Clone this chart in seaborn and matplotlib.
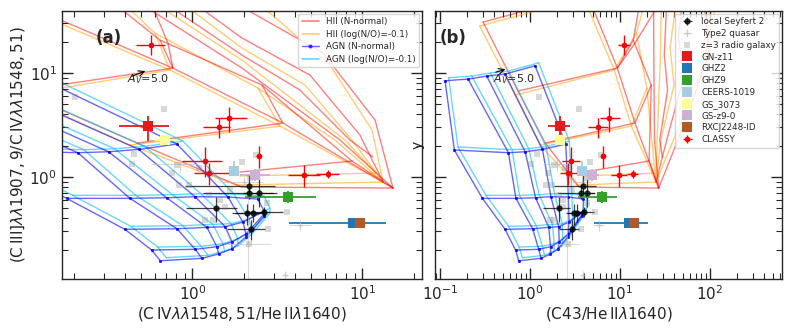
import numpy as np
import pandas as pd
import matplotlib
matplotlib.use("Agg")
import matplotlib.pyplot as plt
from matplotlib.lines import Line2D
import seaborn as sns

sns.set_style("ticks")
plt.rcParams["font.family"] = ["DejaVu Sans"]
plt.rcParams["mathtext.fontset"] = "dejavusans"

nan = np.nan
# ================= model grids: log10 line ratios =================
# lxa = log C IV/He II ; lxb = log C43/He II ; ly = log C III]/C IV
# AGN, N-normal : rows (ionisation parameter) x columns (metallicity)
agn_n_lxa = [[-1.919, -1.678, -1.496, -1.310, -1.050, nan],
             [-1.291, -0.674, -0.493, -0.316, -0.091, nan],
             [-0.740, -0.368, -0.152, 0.015, 0.209, 0.385],
             [-0.397, -0.091, 0.085, 0.193, 0.297, 0.421],
             [-0.240, 0.016, 0.144, 0.232, 0.315, 0.421],
             [-0.189, 0.056, 0.154, 0.232, 0.315, 0.421]]
agn_n_ly = [[0.926, 0.942, 0.971, 0.990, 1.070, nan],
            [0.260, 0.234, 0.243, 0.266, 0.317, nan],
            [-0.205, -0.205, -0.199, -0.189, -0.192, -0.212],
            [-0.503, -0.497, -0.484, -0.478, -0.433, -0.327],
            [-0.702, -0.695, -0.670, -0.625, -0.548, -0.356],
            [-0.805, -0.782, -0.740, -0.692, -0.577, -0.375]]
agn_n_lxb = [[-0.944, -0.689, -0.481, -0.278, 0.056, nan],
             [-0.841, -0.240, -0.054, 0.138, 0.397, nan],
             [-0.529, -0.157, 0.061, 0.232, 0.425, 0.593],
             [-0.278, 0.029, 0.208, 0.318, 0.433, 0.589],
             [-0.161, 0.096, 0.228, 0.324, 0.423, 0.580],
             [-0.126, 0.122, 0.227, 0.312, 0.417, 0.574]]
# AGN, log(N/O) = -0.1
agn_lo_lxa = [[-1.884, -1.643, -1.461, -1.275, -1.015, nan],
              [-1.256, -0.639, -0.458, -0.281, -0.056, nan],
              [-0.705, -0.333, -0.117, 0.050, 0.244, 0.420],
              [-0.362, -0.056, 0.120, 0.228, 0.332, 0.456],
              [-0.205, 0.051, 0.179, 0.267, 0.350, 0.456],
              [-0.154, 0.091, 0.189, 0.267, 0.350, 0.456]]
agn_lo_ly = [[0.955, 0.971, 1.000, 1.019, 1.099, nan],
             [0.289, 0.263, 0.272, 0.295, 0.346, nan],
             [-0.176, -0.176, -0.170, -0.160, -0.163, -0.183],
             [-0.474, -0.468, -0.455, -0.449, -0.404, -0.298],
             [-0.673, -0.666, -0.641, -0.596, -0.519, -0.327],
             [-0.776, -0.753, -0.711, -0.663, -0.548, -0.346]]
agn_lo_lxb = [[-0.904, -0.649, -0.441, -0.238, 0.096, nan],
              [-0.801, -0.200, -0.014, 0.178, 0.437, nan],
              [-0.489, -0.117, 0.101, 0.272, 0.465, 0.633],
              [-0.238, 0.069, 0.248, 0.358, 0.473, 0.629],
              [-0.121, 0.136, 0.268, 0.364, 0.463, 0.620],
              [-0.086, 0.162, 0.267, 0.352, 0.457, 0.614]]

# HII, N-normal : model tracks
hii_n_lxa = [[-2.026, -1.021, -0.326, 0.291], [-1.132, -0.115, 0.532, 1.179],
             [-2.026, -1.132], [-1.021, -0.115, -0.191], [-0.326, 0.532, 0.409],
             [0.291, 1.179], [-0.485, -0.191, 0.409, 0.938, 1.179],
             [-0.338, 0.291, 0.868, 1.179], [-0.191, 0.291, 0.632, 0.926, 1.062],
             [-0.015, 0.291, 0.691, 0.985, 1.121], [0.221, 0.768, 1.074, 1.179],
             [-0.115, -0.144, -0.25], [0.279, 0.938]]
hii_n_ly = [[1.490, 0.827, 0.327, -0.096], [1.760, 1.048, 0.519, -0.106],
            [1.490, 1.760], [0.827, 1.048, 1.317], [0.327, 0.519, 0.885],
            [-0.096, -0.106], [1.702, 1.317, 0.885, 0.154, -0.106],
            [1.702, 1.048, 0.356, -0.106], [1.702, 1.173, 0.837, 0.356, 0.192],
            [1.702, 1.337, 0.981, 0.404, -0.048], [1.702, 1.192, 0.548, -0.106],
            [1.048, 1.288, 1.702], [0.048, 0.154]]
hii_n_lxb = [[-0.522, -0.134, 0.169, 0.547], [0.635, 0.970, 1.166, 1.430],
             [-0.522, 0.635], [-0.134, 0.970, 1.147], [0.169, 1.166, 1.347],
             [0.547, 1.430], [1.225, 1.147, 1.347, 1.323, 1.430],
             [1.372, 1.376, 1.383, 1.430], [1.519, 1.492, 1.528, 1.441, 1.470],
             [1.695, 1.647, 1.715, 1.533, 1.399], [1.931, 1.988, 1.730, 1.430],
             [0.970, 1.166, 1.46], [0.605, 1.323]]
# HII, log(N/O) = -0.1
hii_lo_lxa = [[-2.026, -1.021, -0.368, 0.256], [-1.132, -0.132, 0.515, 1.121],
              [-2.026, -1.132], [-1.021, -0.132, -0.221], [-0.368, 0.515, 0.385],
              [0.256, 1.121], [-0.426, -0.221, 0.385, 0.838, 1.121],
              [-0.25, 0.291, 0.897, 1.079], [-0.085, 0.291, 0.662, 0.938, 1.121],
              [0.368, 0.809, 1.056, 1.121], [0.279, 1.079]]
hii_lo_ly = [[1.452, 0.788, 0.308, -0.077], [1.721, 1.029, 0.490, -0.048],
             [1.452, 1.721], [0.788, 1.029, 1.385], [0.308, 0.490, 0.856],
             [-0.077, -0.048], [1.702, 1.385, 0.856, 0.356, -0.048],
             [1.702, 1.125, 0.356, 0.038], [1.702, 1.240, 0.885, 0.356, -0.048],
             [1.702, 1.077, 0.452, -0.048], [0.010, 0.038]]
hii_lo_lxb = [[-0.559, -0.167, 0.113, 0.520], [0.597, 0.936, 1.127, 1.399],
              [-0.559, 0.597], [-0.167, 0.936, 1.182], [0.113, 1.127, 1.298],
              [0.520, 1.399], [1.284, 1.182, 1.298, 1.353, 1.399],
              [1.46, 1.447, 1.412, 1.400], [1.625, 1.556, 1.600, 1.453, 1.399],
              [2.078, 1.921, 1.639, 1.399], [0.585, 1.400]]

# ================= observations =================
obs_names = ["GN-z11", "GHZ2", "GHZ9", "CEERS-1019", "GS_3073", "GS-z9-0", "RXCJ2248-ID"]
obs_colors = ["#e31a1c", "#1f78b4", "#33a02c", "#a6cee3", "#ffff99", "#cab2d6", "#b15928"]
obs_y = [3.09, 0.359, 0.638, 1.15, 2.27, 1.04, 0.364]
obs_yerr_lo = [0.85, 0.02, 0.078, 0.05, 0.08, 0.12, 0.02]
obs_yerr_hi = [0.77, 0.02, 0.10, 0.28, 0.08, 0.15, 0.02]
obs_xa = [0.547, 8.76, 3.66, 1.75, 0.686, 2.33, 9.67]
obs_xa_lo = [0.179, 5.05, 1.62, 0.08, 0.09, 0.43, 0.4]
obs_xa_hi = [0.183, 4.94, 1.66, 0.12, 0.12, 0.53, 0.4]
obs_xb = [2.15, 12.7, 6.26, 3.75, 2.15, 4.84, 14.2]
obs_xb_lo = [0.55, 7.5, 2.87, 0.2, 0.2, 0.8, 0.6]
obs_xb_hi = [0.63, 7.6, 2.94, 0.3, 0.3, 1.0, 0.6]

classy_y = [18.7, 3.05, 3.66, 1.59, 1.43, 1.10, 1.045, 1.07]
classy_ylo = [3.8, 0.65, 0.93, 0.38, 0.43, 0.26, 0.245, 0.10]
classy_yhi = [4.5, 0.65, 1.04, 0.40, 0.53, 0.26, 0.255, 0.10]
classy_xa = [0.572, 1.44, 1.63, 2.46, 1.19, 1.25, 4.53, 6.29]
classy_xa_lo = [0.107, 0.29, 0.27, 0.08, 0.32, 0.23, 0.87, 0.96]
classy_xa_hi = [0.114, 0.22, 0.45, 0.08, 0.30, 0.46, 1.09, 1.01]
classy_xb = [11.1, 5.74, 7.55, 6.53, 2.86, 2.62, 9.77, 13.8]
classy_xb_lo = [1.7, 1.3, 1.5, 0.3, 0.6, 0.45, 1.8, 2.0]
classy_xb_hi = [1.8, 1.6, 2.4, 0.3, 0.7, 0.9, 2.3, 2.1]

sey_y = [0.82, 0.71, 0.71, 0.507, 0.447, 0.447, 0.464, 0.314]
sey_ylo = [0.10, 0.10, 0.20, 0.14, 0.10, 0.08, 0.05, 0.064]
sey_yhi = [0.25, 0.12, 0.30, 0.14, 0.10, 0.10, 0.05, 0.076]
sey_xa = [2.15, 2.15, 2.47, 1.38, 2.10, 2.28, 2.63, 2.20]
sey_xa_lo = [1.25, 1.0, 0.5, 0.46, 0.4, 0.5, 0.6, 0.61]
sey_xa_hi = [0.9, 1.0, 0.5, 0.44, 0.4, 0.4, 0.8, 0.47]
sey_xb = [3.85, 3.66, 4.30, 2.08, 3.09, 3.33, 3.98, 2.90]
sey_xb_lo = [2.0, 1.6, 0.8, 0.7, 0.6, 0.7, 0.9, 0.8]
sey_xb_hi = [1.5, 1.6, 0.8, 0.7, 0.6, 0.6, 1.2, 0.6]

qso_y = [0.346, 0.225, 0.115, 1.33, 0.9]
qso_ylo = [0.04, 0.12, 0.01, 0.2, 0.1]
qso_yhi = [0.04, 0.6, 0.01, 0.2, 0.1]
qso_xa = [4.29, 2.13, 3.5, 0.85, 2.0]
qso_xa_lo = [0.6, 0.55, 0.15, 0.28, 0.5]
qso_xa_hi = [0.7, 0.75, 0.15, 0.2, 0.6]
qso_xb = [5.8, 2.6, 3.9, 1.98, 3.8]
qso_xb_lo = [0.8, 0.7, 0.2, 0.6, 0.9]
qso_xb_hi = [0.9, 0.9, 0.2, 0.5, 1.0]

rg_y = [5.84, 4.48, 1.66, 1.30, 1.09, 0.838, 0.838, 1.22, 0.671, 0.386, 0.386,
        0.518, 1.40, 1.63, 0.566, 0.464, 0.314, 0.227, 1.33, 0.75, 0.60, 0.978]
rg_xa = [0.203, 0.677, 0.451, 0.811, 0.757, 0.829, 0.95, 1.09, 1.25, 1.19, 1.33,
         1.55, 1.95, 2.36, 2.73, 3.58, 2.79, 2.16, 0.439, 1.66, 1.45, 2.18]
rg_xb = [1.27, 3.53, 1.2, 1.86, 1.58, 1.52, 1.75, 2.42, 2.09, 1.65, 1.85,
         2.35, 4.68, 6.2, 4.27, 5.24, 3.67, 2.65, 1.02, 2.9, 2.32, 4.3]

# ================= helpers =================
def grid_frame(lx, ly):
    lx = np.array(lx, float); ly = np.array(ly, float)
    rows, seg = [], 0
    for i in range(lx.shape[0]):
        m = np.isfinite(lx[i])
        for x, y in zip(lx[i][m], ly[i][m]):
            rows.append((10 ** x, 10 ** y, seg))
        seg += 1
    for j in range(lx.shape[1]):
        m = np.isfinite(lx[:, j])
        for x, y in zip(lx[:, j][m], ly[:, j][m]):
            rows.append((10 ** x, 10 ** y, seg))
        seg += 1
    return pd.DataFrame(rows, columns=["x", "y", "seg"])

def tracks_frame(lxs, lys):
    rows = []
    for k, (lx, ly) in enumerate(zip(lxs, lys)):
        for x, y in zip(lx, ly):
            rows.append((10 ** x, 10 ** y, k))
    return pd.DataFrame(rows, columns=["x", "y", "seg"])

HII_N = dict(color="red", alpha=0.5, lw=1.0)
HII_LO = dict(color="orange", alpha=0.55, lw=1.0)
AGN_N = dict(color="blue", alpha=0.6, lw=1.0, marker="o", markersize=2.2, markeredgewidth=0)
AGN_LO = dict(color="deepskyblue", alpha=0.6, lw=1.0)

def draw_models(ax, panel):
    key = "lxa" if panel == "a" else "lxb"
    g = globals()
    sets = [(tracks_frame(g["hii_lo_" + key], hii_lo_ly), HII_LO),
            (tracks_frame(g["hii_n_" + key], hii_n_ly), HII_N),
            (grid_frame(g["agn_lo_" + key], agn_lo_ly), AGN_LO),
            (grid_frame(g["agn_n_" + key], agn_n_ly), AGN_N)]
    for df, kw in sets:
        sns.lineplot(data=df, x="x", y="y", units="seg", estimator=None, sort=False,
                     ax=ax, legend=False, **kw)

def draw_obs(ax, panel):
    handles = {}
    if panel == "a":
        qx, qlo, qhi = qso_xa, qso_xa_lo, qso_xa_hi
        rx = rg_xa
        sx, slo, shi = sey_xa, sey_xa_lo, sey_xa_hi
        cx, clo, chi = classy_xa, classy_xa_lo, classy_xa_hi
        ox, olo, ohi = obs_xa, obs_xa_lo, obs_xa_hi
    else:
        qx, qlo, qhi = qso_xb, qso_xb_lo, qso_xb_hi
        rx = rg_xb
        sx, slo, shi = sey_xb, sey_xb_lo, sey_xb_hi
        cx, clo, chi = classy_xb, classy_xb_lo, classy_xb_hi
        ox, olo, ohi = obs_xb, obs_xb_lo, obs_xb_hi
    handles["z=3 radio galaxy"] = ax.errorbar(rx, rg_y, fmt="s", color="gray", ms=3.8,
                                              alpha=0.3, mew=0, elinewidth=0.8)
    handles["Type2 quasar"] = ax.errorbar(qx, qso_y, xerr=[qlo, qhi], yerr=[qso_ylo, qso_yhi],
                                          fmt="+", color="silver", ms=4, alpha=0.6,
                                          elinewidth=0.8)
    handles["local Seyfert 2"] = ax.errorbar(sx, sey_y, xerr=[slo, shi], yerr=[sey_ylo, sey_yhi],
                                             fmt="o", color="k", ms=3.5, alpha=0.75,
                                             elinewidth=0.9)
    for i, name in enumerate(obs_names):
        handles[name] = ax.errorbar([ox[i]], [obs_y[i]], xerr=[[olo[i]], [ohi[i]]],
                                    yerr=[[obs_yerr_lo[i]], [obs_yerr_hi[i]]],
                                    fmt="s", color=obs_colors[i], ms=7, capsize=2,
                                    elinewidth=1.3, mew=0)
    handles["CLASSY"] = ax.errorbar(cx, classy_y, xerr=[clo, chi], yerr=[classy_ylo, classy_yhi],
                                    fmt=".", color="red", ms=6, elinewidth=1.0)
    sns.scatterplot(x=cx, y=classy_y, color="red", s=14, linewidth=0, ax=ax, legend=False, zorder=5)
    return handles

fig = plt.figure(figsize=(7.93, 3.31), dpi=100)
ax1 = fig.add_axes([0.0782, 0.157, 0.4540, 0.8097])
ax2 = fig.add_axes([0.5486, 0.157, 0.4376, 0.8097])
for ax in (ax1, ax2):
    ax.set_xscale("log"); ax.set_yscale("log")

draw_models(ax1, "a")
draw_models(ax2, "b")
draw_obs(ax1, "a")
h = draw_obs(ax2, "b")

ax1.set_xlim(0.171, 22.4)
ax2.set_xlim(0.088, 631)
for ax in (ax1, ax2):
    ax.set_ylim(0.1045, 39.5)
    ax.tick_params(which="both", direction="in", top=True, right=True, labelsize=11)
    ax.tick_params(which="major", length=8, width=1)
    ax.tick_params(which="minor", length=4, width=0.8)
    for s in ax.spines.values():
        s.set_linewidth(1.0)
ax2.tick_params(labelleft=False)

ax1.set_ylabel(r"$(\mathrm{C\,III]}\lambda\lambda1907,9/\mathrm{C\,IV}\lambda\lambda1548,51)$",
               fontsize=11, labelpad=2)
ax1.set_xlabel(r"$(\mathrm{C\,IV}\lambda\lambda1548,51/\mathrm{He\,II}\lambda1640)$",
               fontsize=11, labelpad=2)
ax2.set_xlabel(r"$(\mathrm{C43/He\,II}\lambda1640)$", fontsize=11, labelpad=2)

ax1.text(0.092, 0.90, "(a)", transform=ax1.transAxes, fontsize=12, fontweight="bold", va="center")
ax2.text(0.014, 0.90, "(b)", transform=ax2.transAxes, fontsize=12, fontweight="bold", va="center")

ax1.annotate("", xy=(0.547, 10.7), xytext=(0.429, 9.16),
             arrowprops=dict(arrowstyle="->", color="k", lw=0.8))
ax1.text(0.411, 8.75, r"$A_V$=5.0", fontsize=8, va="center")
ax2.annotate("", xy=(0.570, 11.1), xytext=(0.388, 10.0),
             arrowprops=dict(arrowstyle="->", color="k", lw=0.8))
ax2.text(0.388, 8.75, r"$A_V$=5.0", fontsize=8, va="center")

leg_a = [Line2D([], [], color="red", alpha=0.5, lw=1.2),
         Line2D([], [], color="orange", alpha=0.55, lw=1.2),
         Line2D([], [], color="blue", alpha=0.6, lw=1.0, marker="o", ms=2),
         Line2D([], [], color="deepskyblue", alpha=0.6, lw=1.2)]
ax1.legend(leg_a, ["HII (N-normal)", "HII (log(N/O)=-0.1)", "AGN (N-normal)",
                   "AGN (log(N/O)=-0.1)"], loc="upper right", fontsize=6.3,
           handlelength=2.0, borderaxespad=0.3, labelspacing=0.4)
order = ["local Seyfert 2", "Type2 quasar", "z=3 radio galaxy"] + obs_names + ["CLASSY"]
ax2.legend([h[k] for k in order], order, loc="upper right", fontsize=6.3,
           borderaxespad=0.3, labelspacing=0.32, handletextpad=0.6)

fig.savefig("out.png", dpi=100)
